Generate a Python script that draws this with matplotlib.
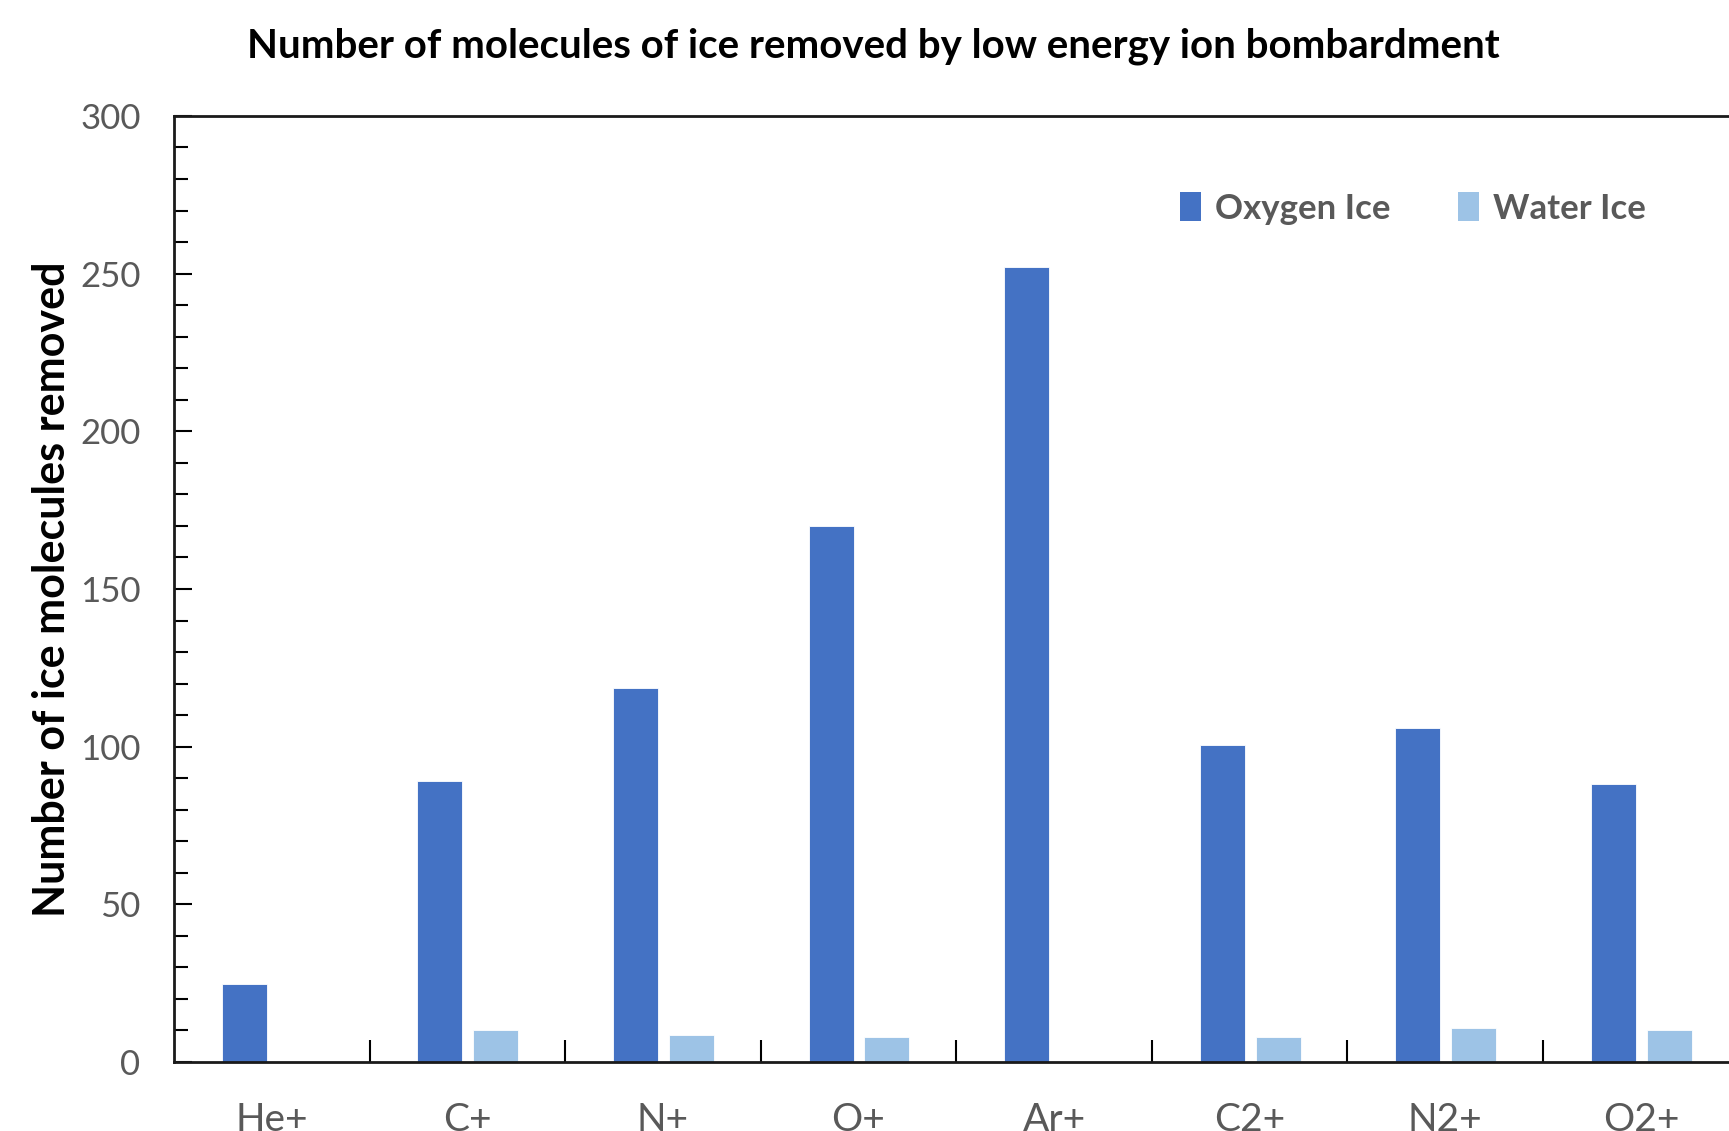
import numpy as np
import matplotlib.pyplot as plt
from matplotlib.patches import Patch

plt.rcParams['font.family'] = ['Lato', 'DejaVu Sans']

ions = ['He+', 'C+', 'N+', 'O+', 'Ar+', 'C2+', 'N2+', 'O2+']
oxygen_ice = [24.7, 89, 118.5, 170, 252, 100.5, 106, 88]
water_ice = [0, 10, 8.7, 8, 0, 8, 10.8, 10]

blue = '#4472C4'
light_blue = '#9DC3E6'
grey = '#595959'

fig = plt.figure(figsize=(17.29, 11.31), dpi=100)
ax = fig.add_axes([0.1006, 0.061, 0.905, 0.8365])

x = np.arange(len(ions))
w = 0.23
ax.bar(x - 0.14, oxygen_ice, w, color=blue, edgecolor='white', linewidth=0.6)
ax.bar(x + 0.145, water_ice, w, color=light_blue, edgecolor='white', linewidth=0.6)

ax.set_xlim(-0.5, len(ions) - 0.5)
ax.set_ylim(0, 300)

ax.set_yticks(np.arange(0, 301, 50))
ax.set_yticks(np.arange(0, 301, 10), minor=True)
ax.tick_params(axis='y', which='major', direction='in', length=13, width=1.5,
               labelsize=25, labelcolor=grey, pad=24)
ax.tick_params(axis='y', which='minor', direction='in', length=10, width=1.5)

ax.set_xticks(x)
ax.set_xticklabels(ions)
ax.set_xticks(np.arange(0.5, len(ions) - 0.5, 1), minor=True)
ax.tick_params(axis='x', which='major', length=0, labelsize=28,
               labelcolor=grey, pad=29)
ax.tick_params(axis='x', which='minor', direction='in', length=16, width=1.5)

for s in ['left', 'top', 'bottom']:
    ax.spines[s].set_linewidth(2)
    ax.spines[s].set_color('#1a1a1a')
ax.spines['right'].set_visible(False)

ax.set_ylabel('Number of ice molecules removed', fontsize=31,
              fontweight='bold')
ax.yaxis.set_label_coords(-0.065, 0.5)

fig.text(0.505, 0.959, 'Number of molecules of ice removed by low energy ion bombardment',
         ha='center', va='center', fontsize=29, fontweight='bold')

handles = [Patch(facecolor=blue, label='Oxygen Ice'),
           Patch(facecolor=light_blue, label='Water Ice')]
leg = ax.legend(handles=handles, ncol=2, loc='center', bbox_to_anchor=(0.792, 0.902),
                frameon=False, fontsize=25, handlelength=0.6, handleheight=0.9,
                handletextpad=0.4, columnspacing=1.95)
for t in leg.get_texts():
    t.set_color(grey)
    t.set_fontweight('bold')

fig.savefig('out.png', dpi=100)
